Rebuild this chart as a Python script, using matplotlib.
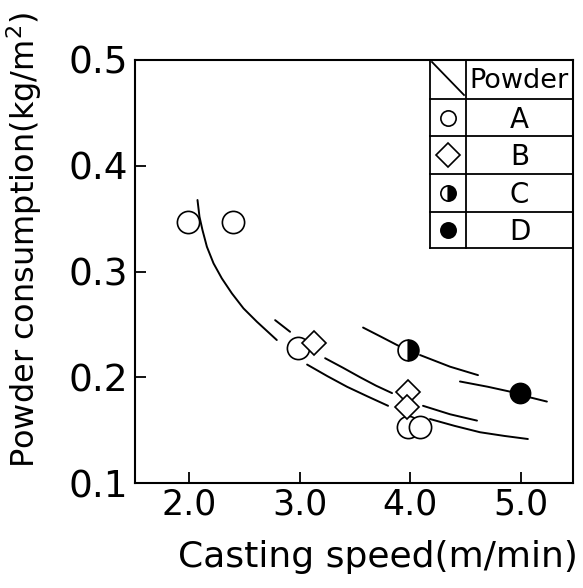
import matplotlib
matplotlib.use("Agg")
import matplotlib.pyplot as plt
from matplotlib.lines import Line2D

# ---- data ----
a_x = [1.99, 2.40, 2.98, 3.98, 4.09]
a_y = [0.347, 0.347, 0.228, 0.153, 0.153]
b_x = [3.13, 3.98, 3.97]
b_y = [0.232, 0.186, 0.172]
c_x = [3.98]
c_y = [0.226]
d_x = [4.99]
d_y = [0.185]

# fitted curves (broken into drawn segments)
curve_a = [
    ([2.075, 2.093, 2.120, 2.160, 2.220, 2.295, 2.386, 2.491, 2.612, 2.792],
     [0.3676, 0.3518, 0.3392, 0.3234, 0.3077, 0.2935, 0.2793, 0.2651, 0.2525, 0.2352]),
    ([3.066, 3.250, 3.427, 3.610, 3.798], [0.212, 0.201, 0.191, 0.182, 0.173]),
    ([4.177, 4.400, 4.629, 4.850, 5.062], [0.1605, 0.154, 0.148, 0.1445, 0.1416]),
]
curve_b = [
    ([2.777, 2.912], [0.254, 0.243]),
    ([3.229, 3.390, 3.545, 3.690, 3.834], [0.218, 0.209, 0.200, 0.192, 0.185]),
    ([4.114, 4.358, 4.602], [0.173, 0.165, 0.159]),
]
curve_c = [
    ([3.572, 3.740, 3.906], [0.247, 0.238, 0.229]),
    ([4.087, 4.358, 4.611], [0.221, 0.210, 0.202]),
]
curve_d = [
    ([4.448, 4.700, 4.918, 5.080, 5.234], [0.196, 0.191, 0.186, 0.181, 0.177]),
]

x_ticks = [2.0, 3.0, 4.0, 5.0]
x_tick_labels = ["2.0", "3.0", "4.0", "5.0"]
y_ticks = [0.1, 0.2, 0.3, 0.4, 0.5]
y_tick_labels = ["0.1", "0.2", "0.3", "0.4", "0.5"]
powders = ["A", "B", "C", "D"]

# ---- figure ----
W, H = 583, 588
fig = plt.figure(figsize=(W / 100, H / 100), dpi=100)
L, R, T, B = 135, 573, 60, 483
ax = fig.add_axes([L / W, 1 - B / H, (R - L) / W, (B - T) / H])
ax.set_xlim(1.51, 5.47)
ax.set_ylim(0.1, 0.5)

for s in ax.spines.values():
    s.set_linewidth(1.5)

ax.set_xticks(x_ticks)
ax.set_xticklabels(x_tick_labels, fontsize=25)
ax.set_yticks(y_ticks)
ax.set_yticklabels(y_tick_labels, fontsize=27)
ax.tick_params(direction="in", length=8, width=1.3)
ax.tick_params(axis="x", pad=3)
ax.tick_params(axis="y", pad=5)
for t in ax.yaxis.get_major_ticks():
    if t.get_loc() in (0.1, 0.5):
        t.tick1line.set_visible(False)

fig.text(578 / W, 1 - 567 / H, "Casting speed(m/min)", fontsize=26, ha="right",
         va="baseline")
fig.text(24 / W, 1 - 240 / H, "Powder consumption(kg/m$^2$)", fontsize=23,
         rotation=90, ha="center", va="center")

lw = 1.4
for segs in (curve_a, curve_b, curve_c, curve_d):
    for xs, ys in segs:
        ax.plot(xs, ys, color="black", lw=lw, zorder=2, solid_capstyle="round")

mew = 1.2
ax.plot(a_x, a_y, "o", ms=16, mfc="white", mec="black", mew=mew, ls="none", zorder=3)
ax.plot(b_x, b_y, "D", ms=12, mfc="white", mec="black", mew=mew, ls="none", zorder=3)
ax.plot(c_x, c_y, "o", ms=15, mfc="white", mfcalt="black", fillstyle="left",
        mec="black", mew=mew, ls="none", zorder=3)
ax.plot(d_x, d_y, "o", ms=14.5, mfc="black", mec="black", mew=mew, ls="none", zorder=3)

# ---- table legend (pixel geometry) ----
def fx(px):
    return (px - L) / (R - L)

def fy(py):
    return (B - py) / (B - T)

tl, tm, tr = 430, 466, 573
rows = [60, 99, 136, 174, 212, 248]
tk = dict(transform=ax.transAxes, color="black", lw=1.3, zorder=5, clip_on=False)
ax.add_artist(Line2D([fx(tl), fx(tl)], [fy(rows[0]), fy(rows[-1])], **tk))
ax.add_artist(Line2D([fx(tm), fx(tm)], [fy(rows[0]), fy(rows[-1])], **tk))
for r in rows[1:]:
    ax.add_artist(Line2D([fx(tl), fx(tr)], [fy(r), fy(r)], **tk))
ax.add_artist(Line2D([fx(tl + 2), fx(tm - 2)], [fy(rows[0] + 2), fy(rows[1] - 4)], **tk))
ax.text(fx((tm + tr) / 2), fy((rows[0] + rows[1]) / 2 + 1), "Powder", transform=ax.transAxes,
        ha="center", va="center", fontsize=19.5, zorder=6)

leg_styles = [
    dict(marker="o", mfc="white", mec="black"),
    dict(marker="D", mfc="white", mec="black"),
    dict(marker="o", mfc="white", mfcalt="black", fillstyle="left", mec="black"),
    dict(marker="o", mfc="black", mec="black"),
]
for i, (p, st) in enumerate(zip(powders, leg_styles)):
    yc = (rows[i + 1] + rows[i + 2]) / 2
    msz = 11 if st["marker"] == "o" else 12
    ax.plot([fx((tl + tm) / 2)], [fy(yc)], transform=ax.transAxes, ls="none", ms=msz,
            mew=1.2, zorder=6, clip_on=False, **st)
    ax.text(fx((tm + tr) / 2), fy(yc + 2), p, transform=ax.transAxes, ha="center",
            va="center", fontsize=20, zorder=6)

fig.savefig("out.png", dpi=100)
